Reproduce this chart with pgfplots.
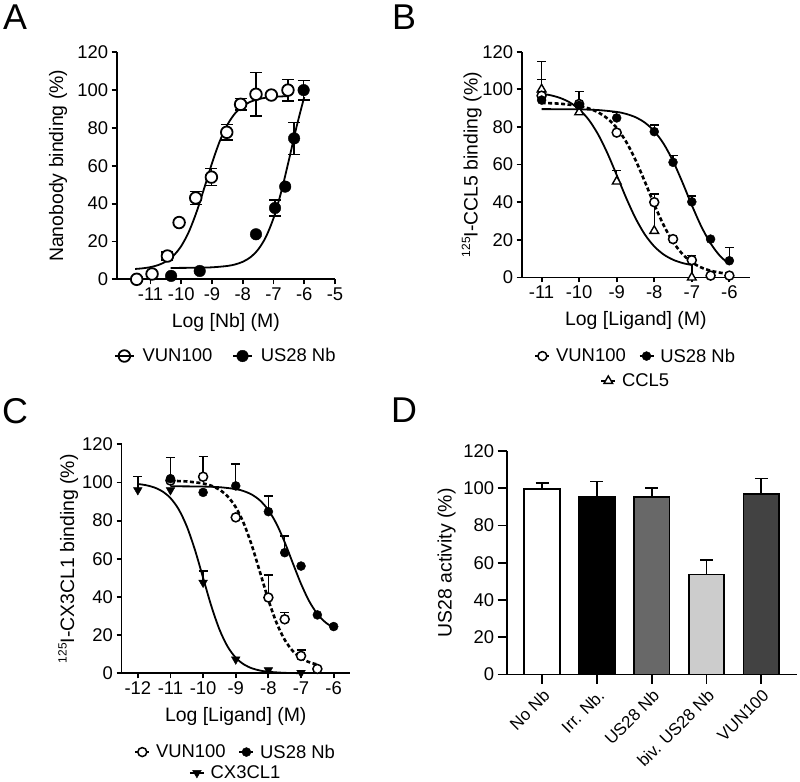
\documentclass[border=0pt]{standalone}
\usepackage{pgfplots}
\pgfplotsset{compat=1.18}
\usepackage{fontspec}
\setmainfont{Liberation Sans}
\definecolor{gmid}{RGB}{104,104,104}
\definecolor{glight}{RGB}{204,204,204}
\definecolor{gdark}{RGB}{66,66,66}
\newcommand{\fs}[1]{\fontsize{#1}{#1}\selectfont}
\pgfplotsset{
 gp/.style={scale only axis, axis x line=bottom, axis y line=left,
  axis line style={-,line width=1.8bp},
  every tick/.append style={line width=1.8bp, black},
  tick align=outside, major tick length=5bp,
  ymin=0, ymax=120, ytick={0,20,...,120}, clip=false,
  tick label style={font=\fs{18.5}},
  /pgf/number format/assume math mode=true,
  label style={font=\fs{19.5}},
  legend columns=2,
  legend style={draw=none, fill=none, font=\fs{18.5}, anchor=center},
  xlabel style={at={(axis description cs:0.5,-0.19)}, anchor=center}},
 legA/.style={legend image code/.code={\draw[##1] plot coordinates {(0bp,0bp)}; \draw[black,line width=1.5bp] (-9.5bp,0bp)--(9.5bp,0bp);},
   legend style={/tikz/every odd column/.append style={column sep=6bp}, /tikz/every even column/.append style={column sep=18bp}}},
 legB/.style={legend image code/.code={\draw[black,line width=1.5bp] (-7bp,0bp)--(7bp,0bp); \draw[##1] plot coordinates {(0bp,0bp)};},
   legend style={/tikz/every odd column/.append style={column sep=4bp}, /tikz/every even column/.append style={column sep=11bp}}},
 ebA/.style={draw=none, mark=none, forget plot, error bars/.cd, y dir=both, y explicit,
   error bar style={draw=black, line width=1.5bp}, error mark options={draw=black, rotate=90, mark size=6bp, line width=1.5bp}},
 ebB/.style={draw=none, mark=none, forget plot, error bars/.cd, y dir=plus, y explicit,
   error bar style={draw=black, line width=1.4bp}, error mark options={draw=black, rotate=90, mark size=4.5bp, line width=1.4bp}},
 curve/.style={black, line width=1.8bp, smooth, mark=none, forget plot},
 dcurve/.style={black, line width=2.6bp, smooth, mark=none, forget plot, dash pattern=on 4bp off 2.5bp},
 dbar/.style={ybar, bar width=35.7bp, bar shift=0pt, draw=black, line width=1.8bp, fill=#1,
  error bars/.cd, y dir=plus, y explicit, error bar style={draw=black, line width=1.8bp},
  error mark options={draw=black, rotate=90, mark size=6.5bp, line width=1.8bp}},
}
\begin{document}
\begin{tikzpicture}
\useasboundingbox (0,0) rectangle (800bp,782bp);
% ---------------- A
\begin{axis}[gp, legA, at={(116.7bp,502.7bp)}, anchor=south west, width=218.3bp, height=227bp,
  xmin=-12.1, xmax=-5, xtick={-11,-10,-9,-8,-7,-6,-5}, xticklabels={-11,-10,-9,-8,-7,-6,-5},
  xlabel={Log [Nb] (M)}, ylabel={Nanobody binding (\%)},
  ylabel style={at={(axis description cs:-0.269,0.5)}, anchor=center},
  legend style={at={(axis description cs:0.5,-0.338)}}]
\addplot[curve] coordinates {(-11.5,5.46)(-11.25,5.81)(-11,6.44)(-10.75,7.52)(-10.5,9.39)(-10.25,12.53)(-10,17.59)(-9.75,25.23)(-9.5,35.72)(-9.25,48.36)(-9,61.41)(-8.75,72.91)(-8.5,81.70)(-8.25,87.72)(-8,91.54)(-7.75,93.85)(-7.5,95.20)(-7.25,95.98)(-7,96.42)(-6.75,96.67)(-6.5,96.82)};
\addplot[curve] coordinates {(-10.35,6.01)(-10,6.03)(-9.5,6.11)(-9,6.33)(-8.5,7.05)(-8.25,7.85)(-8,9.25)(-7.75,11.66)(-7.5,15.73)(-7.25,22.30)(-7,32.30)(-6.75,46.14)(-6.5,63.01)(-6.25,80.65)(-6,96.41)};
\addplot[ebA] coordinates {(-10.45,12.3) +- (0,2) (-9.53,43) +- (0,3.5) (-9.02,54) +- (0,4.5) (-8.52,77.7) +- (0,4) (-8.07,92.5) +- (0,3) (-7.57,97.8) +- (0,11.5) (-6.53,100) +- (0,5.7)};
\addplot[ebA] coordinates {(-6.95,37.7) +- (0,4.3) (-6.33,74.5) +- (0,8.5) (-6.02,100) +- (0,5.2)};
\addplot[only marks, mark=*, mark size=5.8bp, mark options={fill=white, draw=black, line width=1.8bp}] coordinates {(-11.45,0)(-10.95,2.8)(-10.45,12.3)(-10.07,30)(-9.53,43)(-9.02,54)(-8.52,77.7)(-8.07,92.5)(-7.57,97.8)(-7.07,97.4)(-6.53,100)};
\addlegendentry{VUN100}
\addplot[only marks, mark=*, mark size=5.8bp, mark options={fill=black, draw=black}] coordinates {(-10.33,1.8)(-9.40,4.4)(-7.57,23.8)(-6.95,37.7)(-6.62,49)(-6.33,74.5)(-6.02,100)};
\addlegendentry{US28 Nb}
\end{axis}
% ---------------- B
\begin{axis}[gp, legB, at={(521.7bp,504.5bp)}, anchor=south west, width=228.3bp, height=225.8bp,
  xmin=-11.53, xmax=-5.45, xtick={-11,-10,-9,-8,-7,-6}, xticklabels={-11,-10,-9,-8,-7,-6},
  xlabel={Log [Ligand] (M)}, ylabel={{\fs{12}\raisebox{0.62em}{125}}I-CCL5 binding (\%)},
  ylabel style={at={(axis description cs:-0.219,0.5)}, anchor=center},
  legend style={at={(axis description cs:0.5,-0.348)}}]
\addplot[curve] coordinates {(-11,97.68)(-10.75,96.80)(-10.5,95.36)(-10.25,93.05)(-10,89.42)(-9.75,83.96)(-9.5,76.22)(-9.25,66.16)(-9,54.43)(-8.75,42.39)(-8.5,31.55)(-8.25,22.85)(-8,16.52)(-7.75,12.22)(-7.5,9.44)(-7.25,7.70)(-7,6.62)};
\addplot[curve] coordinates {(-11,89.48)(-10.5,89.44)(-10,89.33)(-9.5,88.99)(-9,87.99)(-8.75,86.94)(-8.5,85.18)(-8.25,82.30)(-8,77.78)(-7.75,71.07)(-7.5,61.87)(-7.25,50.56)(-7,38.46)(-6.75,27.24)(-6.5,18.13)(-6.25,11.49)(-6,7.05)};
\addplot[dcurve] coordinates {(-11,92.77)(-10.5,92.34)(-10,91.13)(-9.75,89.88)(-9.5,87.82)(-9.25,84.53)(-9,79.49)(-8.75,72.19)(-8.5,62.47)(-8.25,50.91)(-8,38.83)(-7.75,27.81)(-7.5,18.93)(-7.25,12.48)(-7,8.13)(-6.75,5.33)(-6.5,3.60)(-6.25,2.55)(-6,1.92)};
\addplot[ebB] coordinates {(-11,100) +- (0,14.7) (-9,51) +- (0,6) (-8,24.8) +- (0,16) (-7,0) +- (0,10.6)};
\addplot[ebB] coordinates {(-11,96.6) +- (0,8.5) (-10,92.2) +- (0,6.8) (-8,40) +- (0,4.4) (-7,9.2) +- (0,2.5)};
\addplot[ebB] coordinates {(-9,84.8) +- (0,3) (-8,77.5) +- (0,3.5) (-7.5,61.2) +- (0,3.5) (-7,40.2) +- (0,3.2) (-6,8.9) +- (0,7.1)};
\addplot[only marks, forget plot, mark=triangle*, mark size=5bp, mark options={fill=white, draw=black, line width=1.4bp}] coordinates {(-11,100)(-10,87.8)(-9,51)(-8,24.8)(-7,0)};
\addplot[only marks, mark=*, mark size=4.5bp, mark options={fill=white, draw=black, line width=1.5bp}] coordinates {(-11,96.6)(-10,92.2)(-9,77)(-8,40)(-7.5,20.4)(-7,9.2)(-6.5,1)(-6,1)};
\addlegendentry{VUN100}
\addplot[only marks, mark=*, mark size=4.5bp, mark options={fill=black, draw=black}] coordinates {(-11,94.3)(-10,91.5)(-9,84.8)(-8,77.5)(-7.5,61.2)(-7,40.2)(-6.5,20.4)(-6,8.9)};
\addlegendentry{US28 Nb}
\end{axis}
\begin{axis}[gp, legB, hide axis, at={(521.7bp,504.5bp)}, anchor=south west, width=228.3bp, height=225.8bp,
  xmin=-11.53, xmax=-5.45, legend style={at={(axis description cs:0.5,-0.458)}}]
\addlegendimage{only marks, mark=triangle*, mark size=5bp, mark options={fill=white, draw=black, line width=1.4bp}}
\addlegendentry{CCL5}
\end{axis}
% ---------------- C
\begin{axis}[gp, legB, at={(121.5bp,108.7bp)}, anchor=south west, width=228.5bp, height=229bp,
  xmin=-12.5, xmax=-5.5, xtick={-12,-11,-10,-9,-8,-7,-6}, xticklabels={-12,-11,-10,-9,-8,-7,-6},
  xlabel={Log [Ligand] (M)}, ylabel={{\fs{12}\raisebox{0.62em}{125}}I-CX3CL1 binding (\%)},
  ylabel style={at={(axis description cs:-0.233,0.5)}, anchor=center},
  legend style={at={(axis description cs:0.5,-0.344)}}]
\addplot[curve] coordinates {(-12,99.21)(-11.75,98.57)(-11.5,97.41)(-11.25,95.36)(-11,91.82)(-10.75,85.98)(-10.5,77.01)(-10.25,64.67)(-10,50)(-9.75,35.34)(-9.5,22.99)(-9.25,14.02)(-9,8.18)(-8.75,4.64)(-8.5,2.59)(-8.25,1.43)(-8,0.79)(-7.5,0.24)(-7,0.07)};
\addplot[curve] coordinates {(-11,97.99)(-10.5,97.95)(-10,97.85)(-9.5,97.53)(-9,96.54)(-8.75,95.44)(-8.5,93.57)(-8.25,90.45)(-8,85.52)(-7.75,78.26)(-7.5,68.67)(-7.25,57.65)(-7,46.85)(-6.75,37.78)(-6.5,31.10)(-6.25,26.66)(-6,23.89)};
\addplot[dcurve] coordinates {(-11,100.85)(-10.5,100.53)(-10,99.49)(-9.75,98.30)(-9.5,96.24)(-9.25,92.72)(-9,87.03)(-8.75,78.38)(-8.5,66.57)(-8.25,52.58)(-8,38.48)(-7.75,26.45)(-7.5,17.55)(-7.25,11.63)(-7,7.98)(-6.75,5.83)(-6.5,4.59)};
\addplot[ebB] coordinates {(-12,96) +- (0,7) (-10,47.5) +- (0,6.1)};
\addplot[ebB] coordinates {(-11,101) +- (0,12) (-10,103) +- (0,10.5) (-8,39.7) +- (0,11.8) (-7.5,28.3) +- (0,3.7) (-7,9.1) +- (0,3.1)};
\addplot[ebB] coordinates {(-9,98.2) +- (0,11.5) (-8,84.7) +- (0,8.3) (-7.5,63.2) +- (0,8.8)};
\addplot[only marks, forget plot, mark=triangle*, mark size=5bp, mark options={fill=black, draw=black, rotate=180}] coordinates {(-12,96)(-11,96)(-10,47.5)(-9,7.3)(-8,1.7)(-7,0.3)};
\addplot[only marks, mark=*, mark size=4.5bp, mark options={fill=white, draw=black, line width=1.5bp}] coordinates {(-11,101)(-10,103)(-9,81.7)(-8,39.7)(-7.5,28.3)(-7,9.1)(-6.5,2.3)};
\addlegendentry{VUN100}
\addplot[only marks, mark=*, mark size=4.5bp, mark options={fill=black, draw=black}] coordinates {(-11,102)(-10,94.8)(-9,98.2)(-8,84.7)(-7.5,63.2)(-7,56.2)(-6.5,30.6)(-6,24.5)};
\addlegendentry{US28 Nb}
\end{axis}
\begin{axis}[gp, legB, hide axis, at={(121.5bp,108.7bp)}, anchor=south west, width=228.5bp, height=229bp,
  xmin=-12.5, xmax=-5.5, legend style={at={(axis description cs:0.5,-0.435)}}]
\addlegendimage{only marks, mark=triangle*, mark size=5bp, mark options={fill=black, draw=black, rotate=180}}
\addlegendentry{CX3CL1}
\end{axis}
% ---------------- D
\begin{axis}[gp, at={(506.7bp,107.5bp)}, anchor=south west, width=290.3bp, height=223.5bp,
  xmin=0.355, xmax=5.65, xtick={1,2,3,4,5}, xticklabels={No Nb,Irr. Nb.,US28 Nb,biv. US28 Nb,VUN100},
  major tick length=9bp,
  xticklabel style={rotate=45, anchor=north east, font=\fs{17}},
  ylabel={US28 activity (\%)},
  ylabel style={at={(axis description cs:-0.207,0.5)}, anchor=center}]
\addplot[dbar=white] coordinates {(1,99.5) +- (0,3.2)};
\addplot[dbar=black] coordinates {(2,95.5) +- (0,8.1)};
\addplot[dbar=gmid] coordinates {(3,95.5) +- (0,4.8)};
\addplot[dbar=glight] coordinates {(4,53.7) +- (0,7.9)};
\addplot[dbar=gdark] coordinates {(5,96.8) +- (0,8.4)};
\end{axis}
% panel letters
\node[font=\fs{36}, inner sep=0pt] at (15bp,764.5bp) {A};
\node[font=\fs{36}, inner sep=0pt] at (404bp,765bp) {B};
\node[font=\fs{36}, inner sep=0pt] at (15bp,371bp) {C};
\node[font=\fs{36}, inner sep=0pt] at (404bp,372bp) {D};
\end{tikzpicture}
\end{document}
